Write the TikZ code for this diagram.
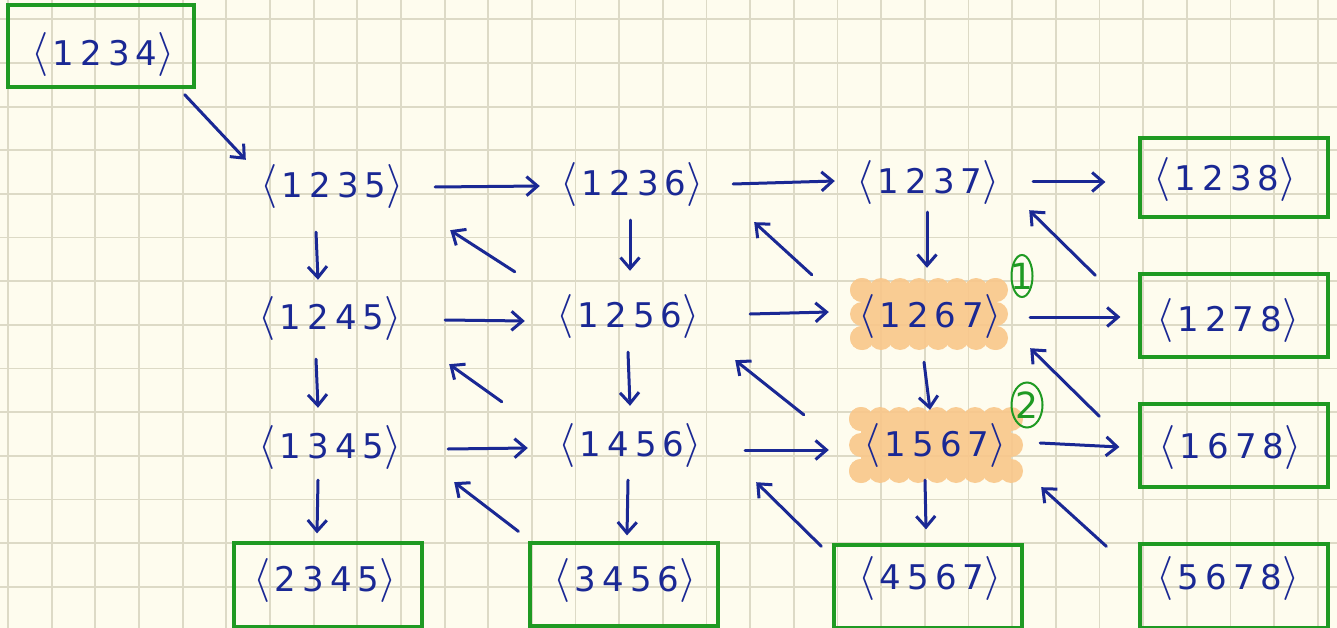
\RequirePackage{fix-cm}
\documentclass[tikz,border=0pt]{standalone}
\usepackage{fontspec}
\usetikzlibrary{arrows.meta,calc}

\newfontfamily\handfont[LetterSpace=18]{DejaVu Sans}
\newfontfamily\markfont{DejaVu Sans}

\definecolor{paper}{HTML}{FEFCEE}
\definecolor{gridline}{HTML}{DDDAC6}
\definecolor{ink}{HTML}{1A2894}
\definecolor{grn}{HTML}{1F9A22}
\definecolor{hlite}{HTML}{F9C78A}

% a permutation tuple written between tall angle brackets
\newcommand\lbr{{\fontsize{44}{44}\selectfont$\langle$}}
\newcommand\rbr{{\fontsize{44}{44}\selectfont$\rangle$}}
\newcommand\perm[1]{\lbr\hspace{4pt}#1\hspace{0pt}\rbr}

\tikzset{
  lab/.style={text=ink, font=\handfont\fontsize{34}{38}\selectfont,
    minimum width=150, minimum height=40, inner sep=0},
  bx/.style={draw=grn, line width=3.2pt, rectangle, inner sep=0},
  arr/.style={draw=ink, line width=3pt, line cap=round,
    -{Straight Barb[length=11pt,width=19pt]}},
  circmark/.style={inner sep=0, text=grn,
    font=\markfont\fontsize{36}{40}\selectfont},
  ring/.style={draw=grn, line width=2pt},
}

\begin{document}
\begin{tikzpicture}[x=1pt,y=-1pt]
  % paper and square grid
  \fill[paper] (0,0) rectangle (1337,628);
  \useasboundingbox (0,0) rectangle (1337,628);
  \foreach \k in {0,...,30}
    \draw[gridline, line width=1.8pt] ({8+43.66*\k},0) -- ({8+43.66*\k},628);
  \foreach \k in {0,...,13}
    \draw[gridline, line width=1.8pt] (0,{19.3+43.66*\k}) -- (1337,{19.3+43.66*\k});

  % highlighter strokes behind the two marked tuples
  \begin{scope}[transparency group, opacity=0.9]
    \fill[hlite] (862,290) rectangle (996,338);
    \foreach \x in {862,881,...,996} {
      \fill[hlite] (\x,290) circle[radius=12];
      \fill[hlite] (\x,338) circle[radius=12];
    }
    \foreach \y in {290,314,338} {
      \fill[hlite] (862,\y) circle[radius=12];
      \fill[hlite] (996,\y) circle[radius=12];
    }
    \fill[hlite] (861,419) rectangle (1011,471);
    \foreach \x in {861,880,...,1011} {
      \fill[hlite] (\x,419) circle[radius=12];
      \fill[hlite] (\x,471) circle[radius=12];
    }
    \foreach \y in {419,445,471} {
      \fill[hlite] (861,\y) circle[radius=12];
      \fill[hlite] (1011,\y) circle[radius=12];
    }
  \end{scope}

  % boxed tuples
  \node[bx, minimum width=186, minimum height=82] (b1234) at (101,46) {};
  \node[bx, minimum width=188, minimum height=79] (b1238) at (1234,177.5) {};
  \node[bx, minimum width=188, minimum height=83] (b1278) at (1234,315.5) {};
  \node[bx, minimum width=188, minimum height=83] (b1678) at (1234,445.5) {};
  \node[bx, minimum width=188, minimum height=84] (b2345) at (328,585) {};
  \node[bx, minimum width=188, minimum height=83] (b3456) at (624,584.5) {};
  \node[bx, minimum width=188, minimum height=83] (b4567) at (928,586.5) {};
  \node[bx, minimum width=188, minimum height=84] (b5678) at (1234,586) {};

  \node[lab] (t1234) at (103,55)  {\perm{1234}};
  \node[lab] (t1238) at (1225,180) {\perm{1238}};
  \node[lab] (t1278) at (1228,320) {\perm{12\hspace{6pt}78}};
  \node[lab] (t1678) at (1230,447) {\perm{1678}};
  \node[lab] (t2345) at (325,580) {\perm{2345}};
  \node[lab] (t3456) at (625,580) {\perm{3456}};
  \node[lab] (t4567) at (930,578) {\perm{4567}};
  \node[lab] (t5678) at (1228,578) {\perm{5678}};

  % inner tuples
  \node[lab] (n1235) at (332,187) {\perm{1235}};
  \node[lab] (n1236) at (632,185) {\perm{1236}};
  \node[lab] (n1237) at (928,183) {\perm{1237}};
  \node[lab] (n1245) at (330,318) {\perm{1245}};
  \node[lab] (n1256) at (628,316) {\perm{1256}};
  \node[lab] (n1267) at (930,316) {\perm{12\hspace{6pt}67}};
  \node[lab] (n1345) at (330,447) {\perm{1345}};
  \node[lab] (n1456) at (630,445) {\perm{1456}};
  \node[lab] (n1567) at (935,445) {\perm{1567}};

  % circled order marks
  \node[circmark] (c1) at (1022,276) {1};
  \draw[ring] (c1.center) ellipse [x radius=10.5, y radius=21];
  \node[circmark] (c2) at (1027,405) {2};
  \draw[ring] (c2.center) ellipse [x radius=15.5, y radius=22.5];

  % entry arrow
  \draw[arr] ($(b1234.south east)+(-11,6)$) -- ($(n1235.north west)+(-11,-5)$);

  % rightward moves
  \draw[arr] ($(n1235.east)+(28,0)$)  -- ($(n1236.west)+(-17,1)$);
  \draw[arr] ($(n1236.east)+(26,-1)$) -- ($(n1237.west)+(-18,-2)$);
  \draw[arr] ($(n1237.east)+(30,-1)$) -- ($(b1238.west)+(-33,4.5)$);
  \draw[arr] ($(n1245.east)+(40,2)$)  -- ($(n1256.west)+(-28,5)$);
  \draw[arr] ($(n1256.east)+(47,-2)$) -- ($(n1267.west)+(-26,-4)$);
  \draw[arr] ($(n1267.east)+(25,1)$)  -- ($(b1278.west)+(-18,1.5)$);
  \draw[arr] ($(n1345.east)+(43,2)$)  -- ($(n1456.west)+(-27,3)$);
  \draw[arr] ($(n1456.east)+(40,5)$)  -- ($(n1567.west)+(-31,5)$);
  \draw[arr] ($(n1567.east)+(30,-2)$) -- ($(b1678.west)+(-19,1.5)$);

  % downward moves
  \draw[arr] ($(n1235.south)+(-16,23)$) -- ($(n1245.north)+(-12,-16)$);
  \draw[arr] ($(n1245.south)+(-14,19)$) -- ($(n1345.north)+(-12,-17)$);
  \draw[arr] ($(n1345.south)+(-12,11)$) -- ($(b2345.north)+(-11,-8)$);
  \draw[arr] ($(n1236.south)+(-2,13)$)  -- ($(n1256.north)+(2,-23)$);
  \draw[arr] ($(n1256.south)+(0,14)$)   -- ($(n1456.north)+(0,-17)$);
  \draw[arr] ($(n1456.south)+(-2,13)$)  -- ($(b3456.north)+(3,-6)$);
  \draw[arr] ($(n1237.south)+(-1,7)$)   -- ($(n1267.north)+(-3,-26)$);
  \draw[arr] ($(n1267.south)+(-6,24)$)  -- ($(n1567.north)+(-5,-13)$);
  \draw[arr] ($(n1567.south)+(-10,13)$) -- ($(b4567.north)+(-2,-14)$);

  % diagonal moves back up-left
  \draw[arr] ($(n1256.north west)+(-38,-22)$) -- ($(n1235.south east)+(43,21)$);
  \draw[arr] ($(n1456.north west)+(-53,-21)$) -- ($(n1245.south east)+(44,24)$);
  \draw[arr] ($(n1267.north west)+(-43,-19)$) -- ($(n1236.south east)+(47,15)$);
  \draw[arr] ($(n1567.north west)+(-56,-8)$)  -- ($(n1256.south east)+(32,22)$);
  \draw[arr] ($(b1278.north west)+(-43,3)$)   -- ($(n1237.south east)+(26,5)$);
  \draw[arr] ($(b1678.north west)+(-39,14)$)  -- ($(n1267.south east)+(25,10)$);
  \draw[arr] ($(b3456.north west)+(-10,-10)$) -- ($(n1345.south east)+(49,13)$);
  \draw[arr] ($(b4567.north west)+(-11,3)$)   -- ($(n1456.south east)+(51,15)$);
  \draw[arr] ($(b5678.north west)+(-32,4)$)   -- ($(n1567.south east)+(31,20)$);
\end{tikzpicture}
\end{document}
